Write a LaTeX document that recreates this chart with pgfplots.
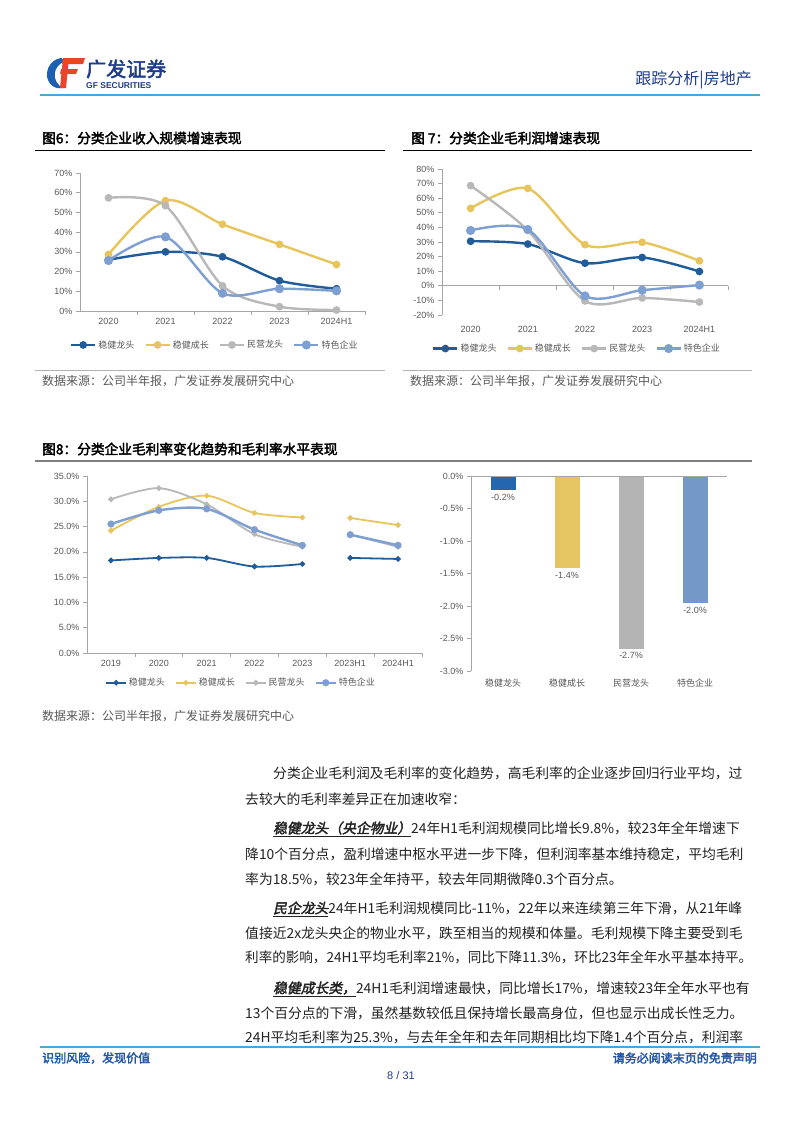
\documentclass[border=0pt]{standalone}
\usepackage{graphicx}
\usepackage{pgfplots}
\pgfplotsset{compat=1.18}
\usepackage{fontspec}
\setmainfont{Liberation Sans}
\newfontfamily\cjk[AutoFakeBold=2.5,AutoFakeSlant=0.2]{Noto Sans CJK SC}
\XeTeXlinebreaklocale "zh"
\XeTeXlinebreakskip=0pt plus 2pt

\definecolor{cA}{HTML}{1F5C99}
\definecolor{cB}{HTML}{E8C55A}
\definecolor{cC}{HTML}{B8B8B8}
\definecolor{cD}{HTML}{7E9FD2}
\definecolor{bA}{HTML}{2467AE}
\definecolor{bB}{HTML}{E5C462}
\definecolor{bC}{HTML}{B4B4B4}
\definecolor{bD}{HTML}{7399C9}
\definecolor{axisgray}{HTML}{A6A6A6}
\definecolor{tickgray}{HTML}{595959}
\definecolor{hdrline}{HTML}{4AA8D0}
\definecolor{navy}{HTML}{1F3C88}
\definecolor{footblue}{HTML}{2356A6}
\definecolor{logored}{HTML}{E8452C}
\definecolor{logoblue}{HTML}{1D5FB0}

\pgfplotsset{
  pg/.style={
    scale only axis, anchor=south west,
    axis y line*=left, axis x line*=bottom,
    axis line style={draw=axisgray, line width=0.7pt, -},
    tick style={draw=axisgray, line width=0.7pt},
    major x tick style={draw=none},
    tick align=outside, major tick length=4pt, minor tick length=4pt,
    ticklabel style={font=\fontsize{9}{10}\selectfont, text=tickgray},
    /pgf/number format/assume math mode=true,
    legend cell align=left,
    legend style={draw=none, fill=none, font=\cjk\fontsize{9}{10}\selectfont,
      text=tickgray, legend columns=4, anchor=center,
      /tikz/every even column/.append style={column sep=8pt}},
    legend image code/.code={\draw[mark repeat=2,mark phase=2,##1]
      plot coordinates {(0pt,0pt) (12pt,0pt) (24pt,0pt)};},
  },
  ln/.style={smooth, line width=2.4pt, mark=*, mark size=2.6pt, mark options={solid}},
  ls/.style={smooth, line width=1.8pt, mark=*, mark size=1.8pt, mark options={solid}},
}

\newsavebox\lbox
\newcommand\jline[2]{\sbox\lbox{#2}\ifdim\wd\lbox>#1\relax\resizebox{#1}{\height}{\usebox\lbox}\else\makebox[#1][s]{#2}\fi}
\newcommand\bodyfont{\cjk\fontsize{13.8}{16}\selectfont\color[HTML]{222222}}
\newcommand\lead[1]{\underline{\bfseries\itshape #1}}
\newcommand\ttl{\cjk\bfseries\fontsize{13.7}{14}\selectfont}
\newcommand\src{\cjk\fontsize{12}{12}\selectfont}

\begin{document}
\begin{tikzpicture}[x=1pt,y=-1pt]
\fill[white] (0,0) rectangle (802,1133);
\path[use as bounding box] (0,0) rectangle (802,1133);

% header
\fill[logoblue] (61,58) .. controls (44,61) and (42,84) .. (57,88) -- (63,88) .. controls (51,82) and (52,65) .. (66,61) -- cycle;
\fill[logored] (63,58) -- (85,58) -- (83,64) -- (62,64) -- cycle;
\fill[logored] (61,69) -- (78,69) -- (76,74) -- (60,74) -- cycle;
\fill[logored] (63,58) -- (69,58) -- (66,88) -- (60,88) -- cycle;
\node[anchor=west, inner sep=0, text=navy] at (86,69) {\cjk\bfseries\fontsize{20}{20}\selectfont 广发证券};
\node[anchor=west, inner sep=0, text=navy] at (86,86) {\bfseries\fontsize{8.5}{9}\selectfont GF SECURITIES};
\node[anchor=east, inner sep=0, text=navy] at (752,80) {\cjk\fontsize{16}{16}\selectfont 跟踪分析|房地产};
\draw[hdrline, line width=2pt] (40,95) -- (760,95);

% titles and sources
\node[anchor=west, inner sep=0] at (42,138) {\ttl 图6：分类企业收入规模增速表现};
\node[anchor=west, inner sep=0] at (411,138) {\ttl 图 7：分类企业毛利润增速表现};
\draw[black, line width=0.8pt] (35,150) -- (385,150);
\draw[black, line width=0.8pt] (403,150) -- (752,150);
\draw[gray!60, line width=0.6pt] (35,370) -- (385,370);
\draw[gray!60, line width=0.6pt] (403,370) -- (752,370);
\node[anchor=west, inner sep=0, text=tickgray] at (42,381) {\src 数据来源：公司半年报，广发证券发展研究中心};
\node[anchor=west, inner sep=0, text=tickgray] at (410,381) {\src 数据来源：公司半年报，广发证券发展研究中心};
\node[anchor=west, inner sep=0] at (42,449) {\ttl 图8：分类企业毛利率变化趋势和毛利率水平表现};
\draw[gray, line width=1.5pt] (35,461) -- (752,461);
\node[anchor=west, inner sep=0, text=tickgray] at (42,716) {\src 数据来源：公司半年报，广发证券发展研究中心};

% Fig 6
\begin{axis}[pg, at={(80pt,-311pt)}, width=285pt, height=138pt,
  xmin=-0.5, xmax=4.5, ymin=0, ymax=70,
  xtick={0,...,4}, xticklabels={2020,2021,2022,2023,2024H1},
  minor xtick={0.5,1.5,...,4.5},
  ytick={0,10,...,70}, yticklabel={\pgfmathprintnumber{\tick}\%},
  legend style={at={(0.473,-0.246)}}]
\addplot[ln, color=cA] coordinates {(0,26) (1,30) (2,27.5) (3,15.4) (4,11.3)};
\addlegendentry{稳健龙头}
\addplot[ln, color=cB] coordinates {(0,28.7) (1,56) (2,44) (3,33.8) (4,23.6)};
\addlegendentry{稳健成长}
\addplot[ln, color=cC] coordinates {(0,57.4) (1,53.4) (2,12.8) (3,2.2) (4,0.5)};
\addlegendentry{民营龙头}
\addplot[ln, color=cD, mark size=3.3pt] coordinates {(0,25.6) (1,37.6) (2,9.0) (3,11.3) (4,10.2)};
\addlegendentry{特色企业}
\end{axis}

% Fig 7
\begin{axis}[pg, at={(442pt,-315pt)}, width=286pt, height=146pt,
  axis x line*=middle,
  xmin=-0.5, xmax=4.5, ymin=-20, ymax=80,
  xtick={0,...,4}, xticklabels={2020,2021,2022,2023,2024H1},
  xticklabel style={yshift=-33pt},
  minor xtick={0.5,1.5,...,4.5},
  ytick={-20,-10,...,80}, yticklabel={\pgfmathprintnumber{\tick}\%},
  legend style={at={(0.472,-0.23)}}]
\addplot[ln, color=cA] coordinates {(0,30.5) (1,28.6) (2,15.5) (3,19.4) (4,9.8)};
\addlegendentry{稳健龙头}
\addplot[ln, color=cB] coordinates {(0,53) (1,66.7) (2,28.2) (3,29.8) (4,17.1)};
\addlegendentry{稳健成长}
\addplot[ln, color=cC] coordinates {(0,68.6) (1,38) (2,-10.4) (3,-8.3) (4,-11.1)};
\addlegendentry{民营龙头}
\addplot[ln, color=cD, mark size=3.3pt] coordinates {(0,37.9) (1,38.6) (2,-6.9) (3,-3.0) (4,0.5)};
\addlegendentry{特色企业}
\end{axis}

% Fig 8 left
\begin{axis}[pg, at={(87pt,-653pt)}, width=335pt, height=177pt,
  xmin=-0.5, xmax=6.5, ymin=0, ymax=35,
  xtick={0,...,6}, xticklabels={2019,2020,2021,2022,2023,2023H1,2024H1},
  minor xtick={0.5,1.5,...,6.5},
  ytick={0,5,...,35},
  yticklabel={\pgfmathprintnumber[fixed,fixed zerofill,precision=1]{\tick}\%},
  legend image code/.code={\draw[mark repeat=2,mark phase=2,#1]
      plot coordinates {(0pt,0pt) (10pt,0pt) (20pt,0pt)};},
  legend style={at={(0.46,-0.168)}}]
\addplot[ls, color=cA] coordinates {(0,18.3) (1,18.8) (2,18.8) (3,17.1) (4,17.6)};
\addlegendentry{稳健龙头}
\addplot[ls, color=cB] coordinates {(0,24.2) (1,28.9) (2,31.1) (3,27.7) (4,26.8)};
\addlegendentry{稳健成长}
\addplot[ls, color=cC] coordinates {(0,30.4) (1,32.6) (2,29.4) (3,23.5) (4,21.0)};
\addlegendentry{民营龙头}
\addplot[ls, color=cD, line width=2.4pt, mark size=2.3pt] coordinates {(0,25.5) (1,28.2) (2,28.5) (3,24.4) (4,21.3)};
\addlegendentry{特色企业}
\addplot[ls, color=cA, forget plot] coordinates {(5,18.8) (6,18.6)};
\addplot[ls, color=cB, forget plot] coordinates {(5,26.7) (6,25.3)};
\addplot[ls, color=cC, forget plot] coordinates {(5,23.4) (6,21.0)};
\addplot[ls, color=cD, line width=2.4pt, mark size=2.3pt, forget plot] coordinates {(5,23.4) (6,21.3)};
\end{axis}

% Fig 8 right
\begin{axis}[pg, at={(471pt,-671pt)}, width=256pt, height=195pt,
  xmin=-0.5, xmax=3.5, ymin=-3, ymax=0,
  x axis line style={draw=none},
  xtick={0,1,2,3}, xticklabels={稳健龙头,稳健成长,民营龙头,特色企业},
  xticklabel style={font=\cjk\fontsize{9}{10}\selectfont},
  ytick={-3,-2.5,-2,-1.5,-1,-0.5,0},
  yticklabel={\pgfmathprintnumber[fixed,fixed zerofill,precision=1]{\tick}\%},
  ybar, bar width=25pt, bar shift=0pt, clip=false,
  nodes near coords={\pgfmathprintnumber[fixed,fixed zerofill,precision=1]{\pgfplotspointmeta}\%},
  nodes near coords style={font=\fontsize{9}{10}\selectfont, text=tickgray}]
\addplot[fill=bA, draw=none] coordinates {(0,-0.22)};
\addplot[fill=bB, draw=none] coordinates {(1,-1.42)};
\addplot[fill=bC, draw=none] coordinates {(2,-2.66)};
\addplot[fill=bD, draw=none] coordinates {(3,-1.96)};
\draw[axisgray, line width=0.7pt] (rel axis cs:0,1) -- (rel axis cs:1,1);
\end{axis}

% body text
\node[anchor=west, inner sep=0] at (273,773) {\bodyfont\jline{479pt}{分类企业毛利润及毛利率的变化趋势，高毛利率的企业逐步回归行业平均，过}};
\node[anchor=west, inner sep=0] at (245,799) {\bodyfont 去较大的毛利率差异正在加速收窄：};
\node[anchor=west, inner sep=0] at (273,829) {\bodyfont\jline{479pt}{\lead{稳健龙头（央企物业）}24年H1毛利润规模同比增长9.8\%，较23年全年增速下}};
\node[anchor=west, inner sep=0] at (245,854) {\bodyfont\jline{507pt}{降10个百分点，盈利增速中枢水平进一步下降，但利润率基本维持稳定，平均毛利}};
\node[anchor=west, inner sep=0] at (245,879) {\bodyfont 率为18.5\%，较23年全年持平，较去年同期微降0.3个百分点。};
\node[anchor=west, inner sep=0] at (273,909) {\bodyfont\jline{479pt}{\lead{民企龙头}24年H1毛利润规模同比-11\%，22年以来连续第三年下滑，从21年峰}};
\node[anchor=west, inner sep=0] at (245,933) {\bodyfont\jline{507pt}{值接近2x龙头央企的物业水平，跌至相当的规模和体量。毛利规模下降主要受到毛}};
\node[anchor=west, inner sep=0] at (245,957) {\bodyfont\jline{507pt}{利率的影响，24H1平均毛利率21\%，同比下降11.3\%，环比23年全年水平基本持平。}};
\node[anchor=west, inner sep=0] at (273,989) {\bodyfont\jline{479pt}{\lead{稳健成长类，}24H1毛利润增速最快，同比增长17\%，增速较23年全年水平也有}};
\node[anchor=west, inner sep=0] at (245,1013) {\bodyfont\jline{507pt}{13个百分点的下滑，虽然基数较低且保持增长最高身位，但也显示出成长性乏力。}};
\node[anchor=west, inner sep=0] at (245,1037) {\bodyfont\jline{507pt}{24H平均毛利率为25.3\%，与去年全年和去年同期相比均下降1.4个百分点，利润率}};

% footer
\draw[hdrline, line width=1.5pt] (40,1047) -- (760,1047);
\node[anchor=west, inner sep=0, text=footblue] at (42,1058) {\cjk\bfseries\fontsize{12}{12}\selectfont 识别风险，发现价值};
\node[anchor=east, inner sep=0, text=footblue] at (757,1058) {\cjk\bfseries\fontsize{12}{12}\selectfont 请务必阅读末页的免责声明};
\node[inner sep=0, text=navy] at (401,1076) {\fontsize{11}{11}\selectfont 8 / 31};
\end{tikzpicture}
\end{document}
